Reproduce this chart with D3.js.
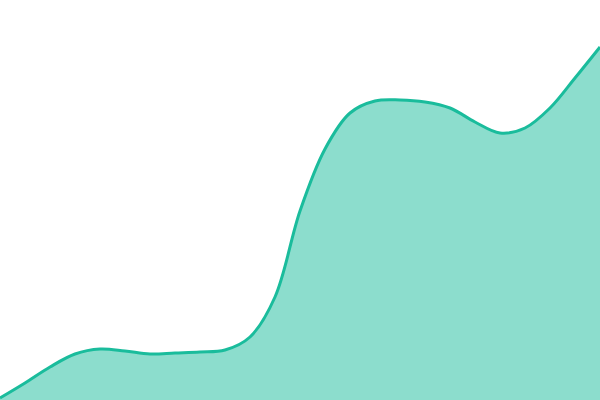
<!DOCTYPE html>
<html>
<head>
<meta charset="utf-8">
<script src="https://cdn.jsdelivr.net/npm/d3@7"></script>
<style>
  body { margin: 0; background: #fff; }
  svg { display: block; }
</style>
</head>
<body>
<div id="chart"></div>
<script>
/* CONSTANTS AND GLOBALS */
const width = 600,
  height = 400;

// one value every step along x
const steps = d3.range(25);
const values = [2, 17, 33, 46, 51, 49, 46, 47, 48, 50, 63, 103, 189,
  251, 287, 299, 300, 298, 292, 278, 267, 272, 292, 322, 353];

const xScale = d3.scaleLinear()
  .domain(d3.extent(steps))
  .range([0, width]);

const yScale = d3.scaleLinear()
  .domain([0, 400])
  .range([height, 0]);

const data = steps.map((s, i) => ({ step: s, value: values[i] }));

const svg = d3.select("#chart")
  .append("svg")
  .attr("width", width)
  .attr("height", height);

const curve = d3.curveCatmullRom.alpha(0.5);

const area = d3.area()
  .curve(curve)
  .x(d => xScale(d.step))
  .y0(height)
  .y1(d => yScale(d.value));

const line = d3.line()
  .curve(curve)
  .x(d => xScale(d.step))
  .y(d => yScale(d.value));

svg.append("path")
  .datum(data)
  .attr("fill", "#1abc9c")
  .attr("fill-opacity", 0.5)
  .attr("d", area);

svg.append("path")
  .datum(data)
  .attr("fill", "none")
  .attr("stroke", "#1abc9c")
  .attr("stroke-width", 3)
  .attr("d", line);
</script>
</body>
</html>
